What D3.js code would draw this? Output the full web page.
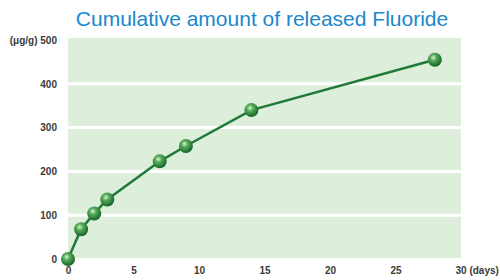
<!DOCTYPE html>
<html>
<head>
<meta charset="utf-8">
<script src="https://cdn.jsdelivr.net/npm/d3@7"></script>
<style>
  body { margin: 0; background: #fff; }
  .tick text { font-family: "Liberation Sans", Arial, sans-serif; font-size: 10px; fill: #3a3a3a; font-weight: bold; }
</style>
</head>
<body>
<div id="chart"></div>
<script>
//------------------------------- Data -------------------------------
var days = [0, 1, 2, 3, 7, 9, 14, 28];
var fluoride = [0, 68, 104, 136, 223, 258, 340, 455];
var xTicks = [0, 5, 10, 15, 20, 25, 30];
var yTicks = [0, 100, 200, 300, 400, 500];

var width = 500, height = 280;
var margin = { top: 40, right: 39, bottom: 21, left: 68 };

var svg = d3.select("#chart").append("svg")
	.attr("width", width)
	.attr("height", height);

//------------------------------- Scales -------------------------------
var x = d3.scaleLinear().domain([0, 30]).range([margin.left, width - margin.right]);
var y = d3.scaleLinear().domain([0, 500]).range([height - margin.bottom, margin.top]);

//Gradient for the balls
var grad = svg.append("defs").append("radialGradient")
	.attr("id", "ball")
	.attr("cx", "40%").attr("cy", "35%").attr("r", "65%");
grad.append("stop").attr("offset", "0%").attr("stop-color", "#d9f2d6");
grad.append("stop").attr("offset", "35%").attr("stop-color", "#55ad58");
grad.append("stop").attr("offset", "100%").attr("stop-color", "#16622a");

//Plot background
svg.append("rect")
	.attr("x", x(0))
	.attr("y", y(500) - 2)
	.attr("width", x(30) - x(0))
	.attr("height", y(0) - y(500) + 1)
	.attr("fill", "#ddeedb");

//White gridlines
svg.selectAll(".grid")
	.data(yTicks.filter(function(d) { return d > 0 && d < 500; }))
	.enter().append("line")
	.attr("x1", x(0)).attr("x2", x(30))
	.attr("y1", function(d) { return y(d); })
	.attr("y2", function(d) { return y(d); })
	.attr("stroke", "#fff")
	.attr("stroke-width", 3);

//------------------------------- Axes -------------------------------
var yAxis = svg.append("g")
	.attr("transform", "translate(" + (margin.left - 8) + ",0)")
	.call(d3.axisLeft(y).tickValues(yTicks).tickSize(0)
		.tickFormat(function(d) { return d === 500 ? "(μg/g) 500" : d; }));
yAxis.select(".domain").remove();

var xAxis = svg.append("g")
	.attr("transform", "translate(0," + (height - margin.bottom + 5) + ")")
	.call(d3.axisBottom(x).tickValues(xTicks).tickSize(0)
		.tickFormat(function(d) { return d === 30 ? "30 (days)" : d; }));
xAxis.select(".domain").remove();
xAxis.selectAll(".tick text").filter(function(d) { return d === 30; })
	.attr("text-anchor", "start").attr("dx", "-0.6em");

//------------------------------- Line + markers -------------------------------
var pts = days.map(function(d, i) { return [d, fluoride[i]]; });

svg.append("path")
	.datum(pts)
	.attr("fill", "none")
	.attr("stroke", "#1f7a3a")
	.attr("stroke-width", 2.5)
	.attr("d", d3.line().x(function(d) { return x(d[0]); }).y(function(d) { return y(d[1]); }));

svg.selectAll(".ball")
	.data(pts)
	.enter().append("circle")
	.attr("cx", function(d) { return x(d[0]); })
	.attr("cy", function(d) { return y(d[1]); })
	.attr("r", 7)
	.attr("fill", "url(#ball)");

//------------------------------- Title -------------------------------
svg.append("text")
	.attr("x", 262)
	.attr("y", 26)
	.attr("text-anchor", "middle")
	.style("font-family", "'Liberation Sans', Arial, sans-serif")
	.style("font-size", "21px")
	.style("fill", "#1a88c9")
	.text("Cumulative amount of released Fluoride");
</script>
</body>
</html>
